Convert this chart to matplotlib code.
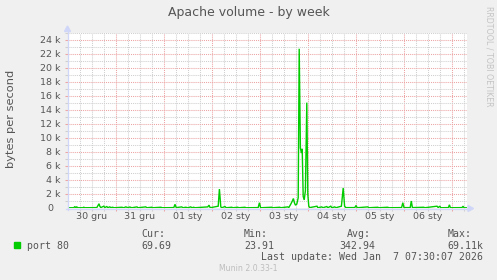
import numpy as np
import matplotlib
matplotlib.use("Agg")
import matplotlib.pyplot as plt
from matplotlib.patches import Polygon, Rectangle
from matplotlib.lines import Line2D
from matplotlib import transforms

W, H = 497, 280

# hours since 30 gru 00:00, values in k bytes/s
hours = [0, 3.0, 3.5, 4.0, 4.5, 5.0, 7.5, 8.0, 8.5,
         14.5, 15.2, 15.6, 16.0, 16.5, 18.0, 18.5, 19.5, 20.0, 21.0, 21.5, 22.5, 23.0,
         27.0, 28.0, 29.0, 30.0, 31.0, 32.0, 34.6, 35.0, 39.0, 39.5, 42.0, 42.5, 46.6, 47.0,
         53.0, 53.6, 54.2, 57.0, 57.5, 59.0, 60.0, 61.5, 62.0, 63.0, 63.5,
         70.0, 70.6, 71.2, 75.2, 75.8, 76.5, 77.0, 78.6, 79.2,
         82.0, 82.5, 85.0, 85.5, 88.6, 89.0, 95.2, 95.8, 96.4,
         102.0, 102.5, 106.0, 106.5, 110.0, 110.5,
         111.5, 112.2, 112.8, 113.3, 113.8, 114.5, 115.2, 115.7, 116.3, 116.8, 117.2,
         117.7, 118.2, 118.8, 119.5, 120.0, 120.5, 121.0,
         124.6, 125.0, 127.0, 127.5, 129.5, 130.0, 131.5, 132.0, 133.5, 134.0,
         136.8, 137.7, 138.4, 139.0, 143.5, 144.1, 144.7, 150.0, 150.5,
         155.0, 155.5, 160.0, 160.5, 166.9, 167.5, 168.1, 171.2, 171.75, 172.3,
         178.0, 178.5, 184.6, 185.2, 186.0, 186.5, 190.3, 190.8, 191.3,
         197.1, 197.6, 198.1, 199.9]
kbytes = [0.08, 0.08, 0.25, 0.08, 0.2, 0.08, 0.08, 0.15, 0.08,
          0.1, 0.45, 0.65, 0.3, 0.1, 0.3, 0.1, 0.25, 0.1, 0.2, 0.1, 0.15, 0.08,
          0.15, 0.08, 0.2, 0.1, 0.18, 0.08, 0.2, 0.08, 0.2, 0.08, 0.15, 0.08, 0.15, 0.08,
          0.1, 0.57, 0.1, 0.2, 0.08, 0.15, 0.08, 0.2, 0.08, 0.15, 0.08,
          0.2, 0.45, 0.08, 0.3, 2.75, 0.2, 0.08, 0.25, 0.08,
          0.15, 0.08, 0.15, 0.08, 0.15, 0.08, 0.1, 0.8, 0.08,
          0.15, 0.08, 0.15, 0.08, 0.2, 0.1,
          0.6, 1.0, 1.4, 0.8, 0.45, 0.6, 1.5, 22.8, 8.6, 7.9, 8.5,
          1.7, 1.2, 2.5, 15.1, 2.0, 0.3, 0.1,
          0.3, 0.08, 0.2, 0.08, 0.25, 0.08, 0.3, 0.08, 0.2, 0.08,
          0.3, 2.9, 0.3, 0.1, 0.1, 0.4, 0.08, 0.2, 0.08,
          0.15, 0.08, 0.15, 0.08, 0.1, 0.8, 0.1, 0.1, 1.04, 0.1,
          0.15, 0.08, 0.3, 0.1, 0.3, 0.08, 0.1, 0.5, 0.08,
          0.1, 0.3, 0.08, 0.07]

day_labels = ["30 gru", "31 gru", "01 sty", "02 sty", "03 sty", "04 sty", "05 sty", "06 sty"]
ytick_vals = [0, 2, 4, 6, 8, 10, 12, 14, 16, 18, 20, 22, 24]

legend_name = "port 80"
cur, vmin, vavg, vmax = "69.69", "23.91", "342.94", "69.11k"
last_update = "Last update: Wed Jan  7 07:30:07 2026"

green = "#00CC00"
fontc = "#555555"
axisc = "#CFD6F8"
mgrid = "#EDA3A3"
grid = "#CFCFCF"


def px(x, y):
    return (x / W, 1 - y / H)


fig = plt.figure(figsize=(W / 100, H / 100), dpi=100, facecolor="#F0F0F0")
x0, y0, x1, y1 = 67.8, 208.3, 467.5, 33.0
ax = fig.add_axes([x0 / W, 1 - y0 / H, (x1 - x0) / W, (y0 - y1) / H])
ax.set_facecolor("white")
ax.set_xlim(0, 199.85)
ax.set_ylim(0, 25.05)
for s in ax.spines.values():
    s.set_visible(False)

dots = (0, (1, 1))
for h in np.arange(6, 200, 6):
    if h % 24:
        ax.axvline(h, color=grid, lw=0.75, ls=dots, zorder=1)
for h in np.arange(24, 200, 24):
    ax.axvline(h, color=mgrid, lw=0.75, ls=dots, zorder=1)
for v in range(1, 26, 2):
    ax.axhline(v, color=grid, lw=0.75, ls=dots, zorder=1)
for v in ytick_vals[1:]:
    ax.axhline(v, color=mgrid, lw=0.75, ls=dots, zorder=1)

ax.set_xticks(np.arange(24, 200, 24))
ax.set_xticks([h for h in np.arange(6, 200, 6) if h % 24], minor=True)
ax.set_yticks(ytick_vals[1:])
ax.set_yticks(list(range(1, 26, 2)), minor=True)
ax.tick_params(which="major", length=2.5, width=0.75, color=mgrid, labelleft=False, labelbottom=False)
ax.tick_params(which="minor", length=2.5, width=0.75, color=grid)

ax.plot(hours, kbytes, color=green, lw=1.0, zorder=3, solid_joinstyle="miter")

# axes with arrows
fig.add_artist(Line2D([px(67.5, 0)[0]] * 2, [px(0, 210)[1], px(0, 29)[1]], color=axisc, lw=0.9))
fig.add_artist(Line2D([px(66, 0)[0], px(469, 0)[0]], [px(0, 208.5)[1]] * 2, color=axisc, lw=0.9, zorder=2))
fig.add_artist(Polygon([px(64.5, 31.5), px(70.5, 31.5), px(67.5, 26)], closed=True, color=axisc))
fig.add_artist(Polygon([px(468, 205.5), px(468, 211.5), px(473.5, 208.5)], closed=True, color=axisc))

# y tick labels
ytr = transforms.blended_transform_factory(fig.transFigure, ax.transData)
for v in ytick_vals:
    if v == 0:
        ax.text(53.8 / W, v, "0", transform=ytr, ha="right", va="center", fontsize=6.8, color=fontc)
    else:
        ax.text(61.0 / W, v, "%d k" % v, transform=ytr, ha="right", va="center", fontsize=6.8, color=fontc)

# x tick labels at noon
xtr = transforms.blended_transform_factory(ax.transData, fig.transFigure)
for i, lab in enumerate(day_labels):
    ax.text(i * 24 + 12, 1 - 216.8 / H, lab, transform=xtr, ha="center", va="center",
            fontsize=6.8, color=fontc)

fig.text(*px(248.5, 12.5), "Apache volume - by week", ha="center", va="center", fontsize=9, color=fontc)
fig.text(*px(11, 119), "bytes per second", rotation=90, ha="center", va="center", fontsize=8.2, color=fontc)
fig.text(*px(488.5, 56.5), "RRDTOOL / TOBI OETIKER", rotation=-90, ha="center", va="center",
         fontsize=5.7, color="#C4C4C4")

# legend
mono = "DejaVu Sans Mono"
fig.add_artist(Rectangle(px(14, 248.3), 6 / W, 6 / H, color=green))
fig.text(*px(27, 245.7), legend_name, ha="left", va="center", fontsize=7.1, family=mono, color=fontc)
for xl, head, val in [(141, "Cur:", cur), (244, "Min:", vmin), (346.7, "Avg:", None), (447.7, "Max:", vmax)]:
    fig.text(*px(xl, 234), head, ha="left", va="center", fontsize=7.1, family=mono, color=fontc)
    if val is not None:
        fig.text(*px(xl, 245.7), val, ha="left", va="center", fontsize=7.1, family=mono, color=fontc)
fig.text(*px(339.3, 245.7), vavg, ha="left", va="center", fontsize=7.1, family=mono, color=fontc)
fig.text(*px(483, 257.3), last_update, ha="right", va="center", fontsize=7.1, family=mono, color=fontc)
fig.text(*px(248.5, 268.7), "Munin 2.0.33-1", ha="center", va="center", fontsize=5.6, color="#BDBDBD")

fig.savefig("out.png", dpi=100, facecolor=fig.get_facecolor())
